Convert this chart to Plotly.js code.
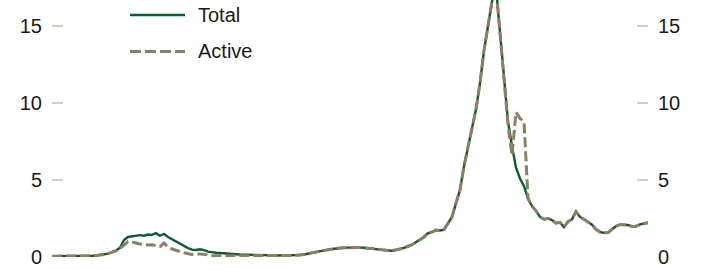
<!DOCTYPE html>
<html>
<head>
<meta charset="utf-8">
<script src="https://cdn.plot.ly/plotly-3.0.1.min.js"></script>
<style>html,body{margin:0;padding:0;background:#fff;}#chart{width:706px;height:270px;}</style>
</head>
<body>
<div id="chart"></div>
<script>
// Weekly index (no x labels in the reference)
const totalValues = [
  0.05,0.05,0.05,0.05,0.05,0.05,0.05,0.05,0.06,0.07,
  0.08,0.10,0.12,0.18,0.22,0.30,0.42,0.60,1.10,1.30,
  1.35,1.38,1.42,1.38,1.46,1.44,1.55,1.38,1.50,1.30,
  1.15,1.00,0.90,0.72,0.58,0.48,0.46,0.50,0.45,0.35,
  0.30,0.28,0.26,0.23,0.21,0.20,0.18,0.16,0.15,0.14,
  0.13,0.12,0.11,0.10,0.10,0.10,0.10,0.10,0.11,0.11,
  0.12,0.12,0.13,0.16,0.22,0.27,0.32,0.36,0.42,0.48,
  0.52,0.56,0.58,0.60,0.61,0.62,0.62,0.61,0.60,0.58,
  0.55,0.52,0.48,0.45,0.42,0.41,0.45,0.52,0.60,0.68,
  0.80,0.95,1.10,1.30,1.55,1.62,1.75,1.72,1.78,2.15,
  2.60,3.50,4.35,5.90,7.20,8.50,9.60,11.30,13.40,15.00,
  16.60,17.50,14.50,11.80,8.80,7.20,5.80,5.10,4.60,3.80,
  3.30,3.00,2.60,2.45,2.50,2.40,2.20,2.25,1.95,2.30,
  2.45,2.95,2.60,2.45,2.30,2.10,1.80,1.62,1.57,1.58,
  1.80,2.00,2.10,2.08,2.08,1.98,2.00,2.12,2.18,2.23
];
const activeValues = [
  0.05,0.05,0.05,0.05,0.05,0.05,0.05,0.05,0.06,0.07,
  0.08,0.10,0.12,0.17,0.22,0.30,0.40,0.55,0.80,1.00,
  0.98,0.90,0.85,0.82,0.78,0.80,0.72,0.67,0.90,0.65,
  0.52,0.42,0.35,0.28,0.20,0.17,0.18,0.20,0.17,0.12,
  0.10,0.08,0.08,0.07,0.07,0.06,0.06,0.06,0.06,0.06,
  0.06,0.06,0.06,0.06,0.06,0.06,0.07,0.07,0.08,0.08,
  0.10,0.12,0.13,0.16,0.22,0.27,0.32,0.36,0.42,0.48,
  0.52,0.56,0.58,0.60,0.61,0.62,0.62,0.61,0.60,0.58,
  0.55,0.52,0.48,0.45,0.42,0.41,0.45,0.52,0.60,0.68,
  0.80,0.95,1.10,1.30,1.55,1.62,1.75,1.72,1.78,2.15,
  2.60,3.50,4.35,5.90,7.20,8.50,9.60,11.30,13.40,15.00,
  16.60,17.50,14.50,11.80,8.60,6.60,9.40,9.00,8.80,3.80,
  3.30,3.00,2.60,2.45,2.50,2.40,2.20,2.25,1.95,2.30,
  2.45,2.95,2.60,2.45,2.30,2.10,1.80,1.62,1.57,1.58,
  1.80,2.00,2.10,2.08,2.08,1.98,2.00,2.12,2.18,2.23
];
const weeks = totalValues.map((_, i) => i);
const yTicks = [0, 5, 10, 15];
const yTickLabels = ['0', '5', '10', '15'];
const seriesNames = ['Total', 'Active'];

const green = '#0b5c37';
const tan = '#8c7f63';
const tickCol = '#d3cdb9';
const fontFam = 'Liberation Sans, Arial, sans-serif';

const traces = [
  {x: weeks, y: totalValues, name: seriesNames[0], type: 'scatter', mode: 'lines',
   line: {color: green, width: 2.4}, showlegend: false, hoverinfo: 'skip'},
  {x: weeks, y: activeValues, name: seriesNames[1], type: 'scatter', mode: 'lines', yaxis: 'y2',
   line: {color: tan, width: 3, dash: '10px,4px'}, showlegend: false, hoverinfo: 'skip'}
];

const yRange = [0, 16.69];
const axisCommon = {
  range: yRange, tickvals: yTicks, ticktext: yTickLabels,
  ticks: 'inside', ticklen: 11, tickwidth: 2, tickcolor: tickCol,
  showgrid: false, zeroline: false, showline: false,
  tickfont: {family: fontFam, size: 20, color: '#1a1a1a'},
  ticklabelstandoff: 9, fixedrange: true
};

const layout = {
  width: 706, height: 270,
  margin: {l: 52, r: 58, t: 0, b: 13, pad: 0},
  paper_bgcolor: '#ffffff', plot_bgcolor: '#ffffff',
  showlegend: false,
  xaxis: {range: [0, weeks.length - 1], visible: false, fixedrange: true},
  yaxis: Object.assign({}, axisCommon, {side: 'left'}),
  yaxis2: Object.assign({}, axisCommon, {side: 'right', overlaying: 'y', anchor: 'x'}),
  shapes: [
    {type: 'line', xref: 'paper', yref: 'paper', x0: (130-52)/596, x1: (185-52)/596,
     y0: (257-15)/257, y1: (257-15)/257, line: {color: green, width: 2.4}},
    {type: 'line', xref: 'paper', yref: 'paper', x0: (130-52)/596, x1: (185-52)/596,
     y0: (257-51.5)/257, y1: (257-51.5)/257, line: {color: tan, width: 3, dash: '11px,4px'}}
  ],
  annotations: [
    {xref: 'paper', yref: 'paper', x: (196-52)/596, y: (257-15)/257, xanchor: 'left', yanchor: 'middle',
     text: seriesNames[0], showarrow: false, font: {family: fontFam, size: 20, color: '#1a1a1a'}},
    {xref: 'paper', yref: 'paper', x: (196-52)/596, y: (257-51.5)/257, xanchor: 'left', yanchor: 'middle',
     text: seriesNames[1], showarrow: false, font: {family: fontFam, size: 20, color: '#1a1a1a'}}
  ]
};

Plotly.newPlot('chart', traces, layout, {displayModeBar: false, staticPlot: true});
</script>
</body>
</html>
